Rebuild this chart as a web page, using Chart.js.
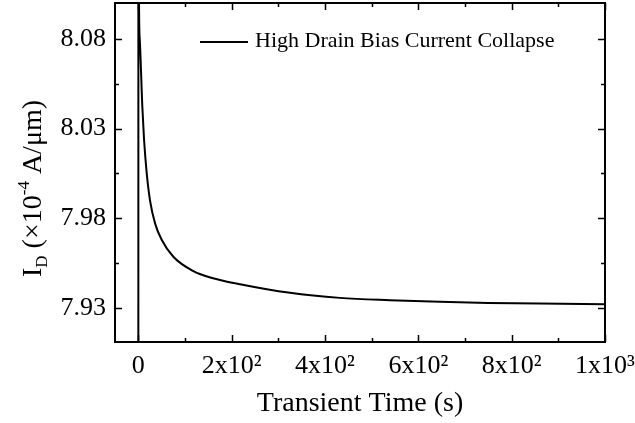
<!DOCTYPE html>
<html>
<head>
<meta charset="utf-8">
<script src="https://cdn.jsdelivr.net/npm/chart.js@4/dist/chart.umd.min.js"></script>
<style>
  html, body { margin: 0; padding: 0; background: #fff; }
  canvas { display: block; }
</style>
</head>
<body>
<canvas id="myChart" width="635" height="423"></canvas>
<script>
// values
const seriesLabel = 'High Drain Bias Current Collapse';
const timeValues = [0, 0.2, 1.5, 3, 8.6, 12.2, 18, 25, 36, 50, 75, 118, 154, 218, 325, 432, 539, 646, 750, 860, 1000];
const currentValues = [7.85, 8.30, 8.10, 8.08, 8.042, 8.024, 8.005, 7.990, 7.977, 7.968, 7.9585, 7.9505, 7.947, 7.9432, 7.9384, 7.9356, 7.9343, 7.9334, 7.9328, 7.9324, 7.9321];
const xTickValues = [0, 200, 400, 600, 800, 1000];
const xMinorTickValues = [100, 300, 500, 700, 900];
const yTickValues = [7.93, 7.98, 8.03, 8.08];
const yMinorTickValues = [7.955, 8.005, 8.055];

const serif = '"Liberation Serif", "Times New Roman", serif';
const supDigits = { 2: '\u00b2', 3: '\u00b3' };

function xTickLabel(v) {
    if (v === 0) return '0';
    const e = Math.floor(Math.log10(v) + 1e-9);
    const m = Math.round(v / Math.pow(10, e));
    return m + 'x10' + supDigits[e];
}

// frame, inward ticks, y title with sub/superscript, legend
const framePlugin = {
    id: 'frame',
    afterDraw(chart) {
        const { ctx, chartArea: a, scales: { x, y } } = chart;
        ctx.save();
        ctx.strokeStyle = '#000';
        ctx.lineWidth = 2;
        ctx.strokeRect(a.left, a.top, a.right - a.left, a.bottom - a.top);

        ctx.lineWidth = 1.5;
        ctx.beginPath();
        const xMark = (v, len) => {
            const px = Math.round(x.getPixelForValue(v)) + 0.5;
            ctx.moveTo(px, a.bottom); ctx.lineTo(px, a.bottom - len);
            ctx.moveTo(px, a.top); ctx.lineTo(px, a.top + len);
        };
        const yMark = (v, len) => {
            const py = Math.round(y.getPixelForValue(v)) + 0.5;
            ctx.moveTo(a.left, py); ctx.lineTo(a.left + len, py);
            ctx.moveTo(a.right, py); ctx.lineTo(a.right - len, py);
        };
        xTickValues.forEach(v => xMark(v, 7));
        xMinorTickValues.forEach(v => xMark(v, 4));
        yTickValues.forEach(v => yMark(v, 7));
        yMinorTickValues.forEach(v => yMark(v, 4));
        ctx.stroke();

        // y axis title
        const parts = [
            { t: 'I', size: 28, dy: 0 },
            { t: 'D', size: 17, dy: 6 },
            { t: ' (\u00d710', size: 28, dy: 0 },
            { t: '-4', size: 17, dy: -12 },
            { t: ' A/\u03bcm)', size: 28, dy: 0 }
        ];
        let total = 0;
        parts.forEach(p => { ctx.font = p.size + 'px ' + serif; p.w = ctx.measureText(p.t).width; total += p.w; });
        ctx.translate(41, (a.top + a.bottom) / 2 + 16);
        ctx.rotate(-Math.PI / 2);
        ctx.fillStyle = '#000';
        ctx.textBaseline = 'alphabetic';
        let cx = -total / 2;
        parts.forEach(p => {
            ctx.font = p.size + 'px ' + serif;
            ctx.fillText(p.t, cx, p.dy);
            cx += p.w;
        });
        ctx.setTransform(1, 0, 0, 1, 0, 0);

        // legend
        const ds = chart.data.datasets[0];
        ctx.strokeStyle = ds.borderColor;
        ctx.lineWidth = ds.borderWidth;
        ctx.beginPath();
        ctx.moveTo(200, 42); ctx.lineTo(248, 42);
        ctx.stroke();
        ctx.font = '22px ' + serif;
        ctx.textBaseline = 'middle';
        ctx.fillText(ds.label, 255, 41);
        ctx.restore();
    }
};

new Chart(document.getElementById('myChart'), {
    type: 'line',
    data: {
        datasets: [{
            label: seriesLabel,
            data: timeValues.map((t, i) => ({ x: t, y: currentValues[i] })),
            borderColor: '#000',
            borderWidth: 2,
            pointRadius: 0,
            fill: false,
            cubicInterpolationMode: 'monotone'
        }]
    },
    options: {
        responsive: false,
        animation: false,
        layout: { padding: { top: 3, right: 30, bottom: 0, left: 0 } },
        plugins: {
            legend: { display: false },
            tooltip: { enabled: false }
        },
        scales: {
            x: {
                type: 'linear',
                min: -50,
                max: 1000,
                afterBuildTicks: s => { s.ticks = xTickValues.map(v => ({ value: v })); },
                afterFit: s => { s.height = 81; s.paddingLeft = 0; s.paddingRight = 0; },
                grid: { display: false },
                border: { display: false },
                ticks: {
                    color: '#000',
                    padding: 1,
                    maxRotation: 0,
                    font: { family: serif, size: 26 },
                    callback: v => xTickLabel(v)
                },
                title: {
                    display: true,
                    text: 'Transient Time (s)',
                    color: '#000',
                    font: { family: serif, size: 28 },
                    padding: { top: 0, bottom: 3 }
                }
            },
            y: {
                type: 'linear',
                min: 7.911,
                max: 8.100,
                afterBuildTicks: s => { s.ticks = yTickValues.map(v => ({ value: v })); },
                afterFit: s => { s.width = 115; s.paddingTop = 0; s.paddingBottom = 0; },
                grid: { display: false },
                border: { display: false },
                ticks: {
                    color: '#000',
                    padding: 1,
                    font: { family: serif, size: 26 },
                    callback: v => v.toFixed(2)
                }
            }
        }
    },
    plugins: [framePlugin]
});
</script>
</body>
</html>
